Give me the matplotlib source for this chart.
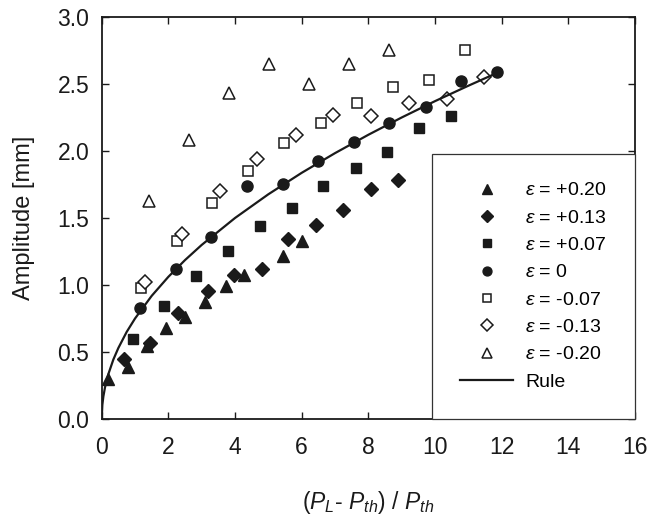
import matplotlib
matplotlib.use('Agg')
import matplotlib.pyplot as plt

plt.rcParams['font.family'] = ['Liberation Sans', 'DejaVu Sans']
plt.rcParams['mathtext.fontset'] = 'custom'
plt.rcParams['mathtext.rm'] = 'Liberation Sans'
plt.rcParams['mathtext.it'] = 'Liberation Sans:italic'

# eps = +0.20 (filled triangles)
x_p20 = [0.2, 0.78, 1.35, 1.93, 2.5, 3.1, 3.72, 4.28, 5.45, 6.02]
y_p20 = [0.30, 0.39, 0.545, 0.68, 0.76, 0.875, 0.99, 1.075, 1.22, 1.33]
# eps = +0.13 (filled diamonds)
x_p13 = [0.68, 1.45, 2.3, 3.18, 3.97, 4.8, 5.6, 6.42, 7.25, 8.07, 8.9]
y_p13 = [0.45, 0.57, 0.79, 0.955, 1.075, 1.12, 1.34, 1.45, 1.56, 1.72, 1.78]
# eps = +0.07 (filled squares)
x_p07 = [0.93, 1.88, 2.83, 3.78, 4.74, 5.71, 6.65, 7.62, 8.57, 9.53, 10.48]
y_p07 = [0.595, 0.843, 1.067, 1.25, 1.44, 1.575, 1.74, 1.875, 1.99, 2.17, 2.26]
# eps = 0 (filled circles)
x_00 = [1.15, 2.22, 3.28, 4.37, 5.45, 6.5, 7.58, 8.63, 9.72, 10.78, 11.85]
y_00 = [0.825, 1.12, 1.36, 1.735, 1.75, 1.925, 2.07, 2.21, 2.33, 2.52, 2.59]
# eps = -0.07 (open squares)
x_m07 = [1.18, 2.25, 3.32, 4.4, 5.48, 6.58, 7.65, 8.73, 9.81, 10.9]
y_m07 = [0.975, 1.325, 1.61, 1.85, 2.06, 2.21, 2.36, 2.48, 2.53, 2.75]
# eps = -0.13 (open diamonds)
x_m13 = [1.3, 2.42, 3.55, 4.67, 5.82, 6.95, 8.08, 9.23, 10.37, 11.48]
y_m13 = [1.02, 1.38, 1.70, 1.94, 2.12, 2.27, 2.26, 2.36, 2.39, 2.55]
# eps = -0.20 (open triangles)
x_m20 = [1.42, 2.63, 3.82, 5.02, 6.23, 7.42, 8.63]
y_m20 = [1.63, 2.08, 2.43, 2.65, 2.50, 2.65, 2.75]

# rule curve
x_rule = [0, 0.02, 0.05, 0.1, 0.2, 0.35, 0.5, 0.75, 1, 1.5, 2, 2.5, 3, 4, 5, 6, 7, 8, 9, 10, 11, 11.9]
y_rule = [0, 0.106, 0.168, 0.237, 0.335, 0.444, 0.53, 0.65, 0.75, 0.919, 1.061, 1.186, 1.299,
          1.5, 1.677, 1.837, 1.984, 2.121, 2.25, 2.372, 2.487, 2.587]

labels = [r'$\varepsilon$ = +0.20', r'$\varepsilon$ = +0.13', r'$\varepsilon$ = +0.07',
          r'$\varepsilon$ = 0', r'$\varepsilon$ = -0.07', r'$\varepsilon$ = -0.13',
          r'$\varepsilon$ = -0.20', 'Rule']

fig = plt.figure(figsize=(6.54, 5.24), dpi=100)
ax = fig.add_subplot(111)
fig.subplots_adjust(left=0.1555, right=0.971, top=0.9676, bottom=0.2004)

k = '#1a1a1a'
ax.plot(x_p20, y_p20, '^', ms=9, color=k, mec=k, ls='none', label=labels[0])
ax.plot(x_p13, y_p13, 'D', ms=7.5, color=k, mec=k, ls='none', label=labels[1])
ax.plot(x_p07, y_p07, 's', ms=6.5, color=k, mec=k, ls='none', label=labels[2])
ax.plot(x_00, y_00, 'o', ms=8, color=k, mec=k, ls='none', label=labels[3])
ax.plot(x_m07, y_m07, 's', ms=6.5, mfc='white', mec=k, mew=1.1, ls='none', label=labels[4])
ax.plot(x_m13, y_m13, 'D', ms=7.5, mfc='white', mec=k, mew=1.1, ls='none', label=labels[5])
ax.plot(x_m20, y_m20, '^', ms=9, mfc='white', mec=k, mew=1.1, ls='none', label=labels[6])
ax.plot(x_rule, y_rule, '-', color=k, lw=1.6, label=labels[7])

ax.set_xlim(0, 16)
ax.set_ylim(0, 3)
ax.set_xticks(range(0, 17, 2))
ax.set_yticks([0, 0.5, 1.0, 1.5, 2.0, 2.5, 3.0])
ax.set_yticklabels(['0.0', '0.5', '1.0', '1.5', '2.0', '2.5', '3.0'])
ax.tick_params(direction='in', top=True, right=True, length=5, width=1, labelsize=16.5,
               colors=k)
ax.tick_params(axis='x', pad=12)
ax.tick_params(axis='y', pad=9)
for s in ax.spines.values():
    s.set_linewidth(1.3)
    s.set_color(k)

ax.set_xlabel(r'($P_L$- $P_{th}$) / $P_{th}$', fontsize=16.5, labelpad=22, color=k)
ax.set_ylabel('Amplitude [mm]', fontsize=17, labelpad=16, color=k)

leg = ax.legend(loc='lower right', borderaxespad=0, fontsize=14, markerscale=0.8,
                fancybox=False, framealpha=1, edgecolor='#333333', labelspacing=0.5,
                borderpad=1.45, handlelength=2.7, handletextpad=0.65)
leg.get_frame().set_linewidth(0.9)

fig.savefig('out.png', dpi=100)
